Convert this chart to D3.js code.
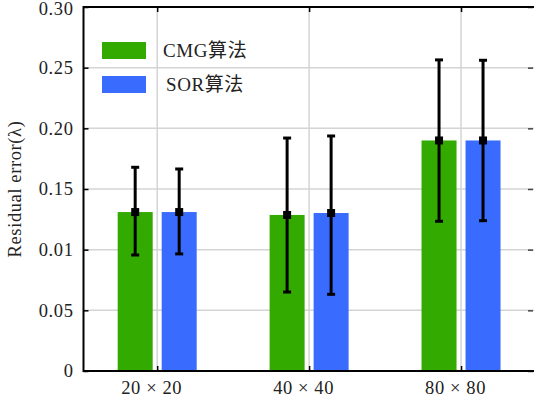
<!DOCTYPE html>
<html lang="zh">
  <head>
    <meta charset="utf-8" />
    <title>Residual error bar chart</title>
    <script src="https://cdn.jsdelivr.net/npm/d3@7"></script>
    <style>
      body { margin: 0; background: #fff; }
      svg { display: block; }
      text { font-family: "Liberation Serif", "Noto Sans CJK SC", serif; fill: #222; }
    </style>
  </head>
  <body>
    <script>
      // chart data
      var categories = ["20 \u00d7 20", "40 \u00d7 40", "80 \u00d7 80"];
      var seriesNames = ["CMG算法", "SOR算法"];
      var cmgValues = [0.131, 0.1286, 0.19];
      var sorValues = [0.131, 0.1302, 0.19];
      var cmgLow = [0.0956, 0.0651, 0.1234];
      var cmgHigh = [0.1679, 0.192, 0.2564];
      var sorLow = [0.0965, 0.0632, 0.1239];
      var sorHigh = [0.1665, 0.1937, 0.2561];
      var yTickValues = [0, 0.05, 0.1, 0.15, 0.2, 0.25, 0.3];
      var yTickLabels = ["0", "0.05", "0.01", "0.15", "0.20", "0.25", "0.30"];
      var colors = ["#33aa00", "#3a6bff"];

      var w = 534;
      var h = 400;
      var plotLeft = 83.5, plotRight = 537, plotTop = 7, plotBottom = 371;

      var xScale = d3.scaleLinear().domain([0.515, 3.5]).range([plotLeft, plotRight]);
      var yScale = d3.scaleLinear().domain([0, 0.3]).range([plotBottom, plotTop]);

      var barW = 35, gap = 4.5;

      var series = [
        { name: seriesNames[0], values: cmgValues, low: cmgLow, high: cmgHigh, color: colors[0], off: -(gap + barW / 2) },
        { name: seriesNames[1], values: sorValues, low: sorLow, high: sorHigh, color: colors[1], off: gap + barW / 2 }
      ];

      var svg = d3.select("body").append("svg").attr("width", w).attr("height", h);

      // grid
      var grid = svg.append("g").attr("stroke", "#d4d4d4").attr("stroke-width", 1.5);
      grid.selectAll("line.h")
        .data(yTickValues.slice(1, -1))
        .enter()
        .append("line")
        .attr("x1", plotLeft).attr("x2", plotRight)
        .attr("y1", function (d) { return yScale(d); })
        .attr("y2", function (d) { return yScale(d); });
      grid.selectAll("line.v")
        .data(categories)
        .enter()
        .append("line")
        .attr("y1", plotTop).attr("y2", plotBottom)
        .attr("x1", function (d, i) { return xScale(i + 1); })
        .attr("x2", function (d, i) { return xScale(i + 1); });

      // bars
      series.forEach(function (s) {
        svg.append("g")
          .selectAll("rect")
          .data(s.values)
          .enter()
          .append("rect")
          .attr("x", function (d, i) { return xScale(i + 1) + s.off - barW / 2; })
          .attr("y", function (d) { return yScale(d); })
          .attr("width", barW)
          .attr("height", function (d) { return plotBottom - yScale(d); })
          .attr("fill", s.color);
      });

      // error bars
      series.forEach(function (s) {
        var g = svg.append("g").attr("stroke", "#000").attr("stroke-width", 3);
        s.values.forEach(function (d, i) {
          var cx = xScale(i + 1) + s.off;
          g.append("line")
            .attr("x1", cx).attr("x2", cx)
            .attr("y1", yScale(s.low[i])).attr("y2", yScale(s.high[i]));
          [s.low[i], s.high[i]].forEach(function (v) {
            g.append("line")
              .attr("x1", cx - 4).attr("x2", cx + 4)
              .attr("y1", yScale(v)).attr("y2", yScale(v));
          });
          svg.append("rect")
            .attr("x", cx - 4).attr("y", yScale(d) - 4)
            .attr("width", 8).attr("height", 8)
            .attr("fill", "#000");
        });
      });

      // axes
      var yAxis = d3.axisLeft(yScale)
        .tickValues(yTickValues)
        .tickSize(-5)
        .tickPadding(10)
        .tickFormat(function (d, i) { return yTickLabels[i]; });
      var yG = svg.append("g").attr("transform", "translate(" + plotLeft + ",0)").call(yAxis);

      var yRight = d3.axisRight(yScale).tickValues(yTickValues).tickSize(-5).tickFormat("");
      var yrG = svg.append("g").attr("transform", "translate(" + (w - 1) + ",0)").call(yRight);

      var xAxis = d3.axisBottom(xScale)
        .tickValues([1, 2, 3])
        .tickSize(-5)
        .tickPadding(10)
        .tickFormat(function (d) { return categories[d - 1]; });
      var xG = svg.append("g").attr("transform", "translate(0," + plotBottom + ")").call(xAxis);

      var xTop = d3.axisTop(xScale).tickValues([1, 2, 3]).tickSize(-5).tickFormat("");
      var xtG = svg.append("g").attr("transform", "translate(0," + plotTop + ")").call(xTop);

      [yG, yrG, xG, xtG].forEach(function (g) {
        g.select(".domain").remove();
        g.attr("font-size", null).attr("font-family", null);
        g.selectAll("line").attr("stroke", "#000").attr("stroke-width", 1.5);
        g.selectAll("text").style("font-size", "18.5px").style("letter-spacing", "0.6px").style("fill", "#222");
      });
      yrG.selectAll("line").attr("stroke", "#444");
      xG.selectAll("text").attr("dx", -6);
      yG.selectAll("text").attr("dy", function (d) { return d === 0.3 ? "0.42em" : "0.32em"; });

      // frame
      svg.append("line").attr("x1", plotLeft).attr("x2", w).attr("y1", plotBottom).attr("y2", plotBottom)
        .attr("stroke", "#000").attr("stroke-width", 2);
      svg.append("line").attr("x1", plotLeft).attr("x2", w).attr("y1", plotTop).attr("y2", plotTop)
        .attr("stroke", "#000").attr("stroke-width", 2);
      svg.append("line").attr("x1", plotLeft).attr("x2", plotLeft).attr("y1", plotTop - 1).attr("y2", plotBottom + 1)
        .attr("stroke", "#000").attr("stroke-width", 2);

      // y title
      svg.append("text")
        .attr("transform", "translate(21," + (plotTop + plotBottom) / 2 + ") rotate(-90)")
        .attr("text-anchor", "middle")
        .style("font-size", "18.5px")
        .style("letter-spacing", "0.6px")
        .text("Residual error(\u03bb)");

      // legend
      var legend = svg.append("g");
      series.forEach(function (s, i) {
        legend.append("rect")
          .attr("x", 102).attr("y", 42 + i * 34)
          .attr("width", 44).attr("height", 17)
          .attr("fill", s.color);
        legend.append("text")
          .attr("x", 163 + i * 3).attr("y", 57 + i * 34)
          .style("font-size", "19px")
          .style("letter-spacing", "0.6px")
          .text(s.name);
      });
    </script>
  </body>
</html>
